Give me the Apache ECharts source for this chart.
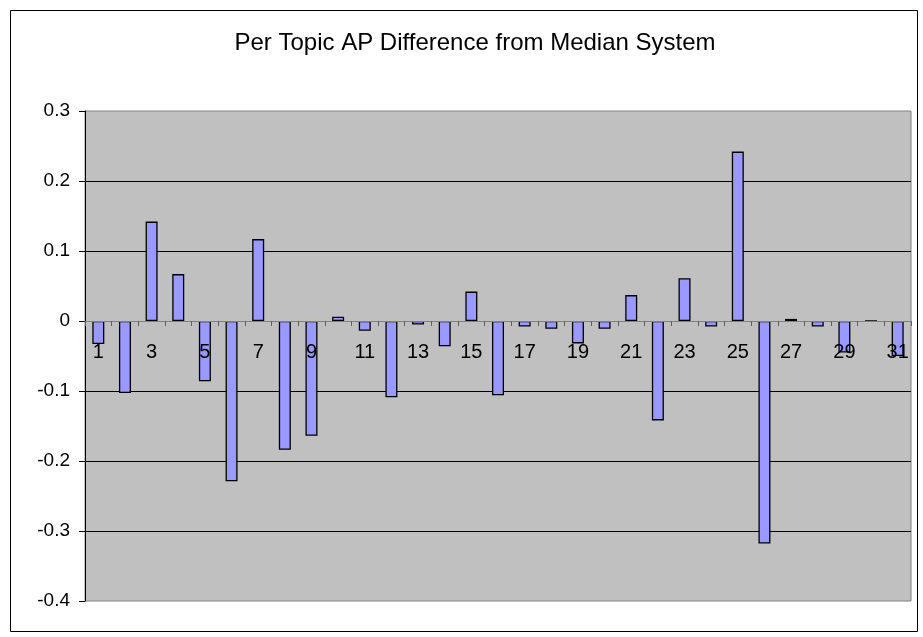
<!DOCTYPE html>
<html>
<head>
<meta charset="utf-8">
<script src="https://cdn.jsdelivr.net/npm/echarts@6/dist/echarts.min.js"></script>
<style>html,body{margin:0;padding:0;background:#fff}#c{width:923px;height:637px}</style>
</head>
<body>
<div id="c"></div>
<script>
var titleText = 'Per Topic AP Difference from Median System';
var categories = ['1','2','3','4','5','6','7','8','9','10','11','12','13','14','15','16','17','18','19','20','21','22','23','24','25','26','27','28','29','30','31'];
var apDiff = [-0.033, -0.103, 0.142, 0.067, -0.086, -0.229, 0.117, -0.184, -0.164, 0.006, -0.014, -0.109, -0.005, -0.036, 0.042, -0.106, -0.008, -0.011, -0.032, -0.011, 0.037, -0.142, 0.061, -0.008, 0.242, -0.318, 0.003, -0.008, -0.045, 0, -0.05];
var yMin = -0.4, yMax = 0.3, yStep = 0.1;

var gridTop = 111, gridBottom = 36, chartH = 637;
var plotH = chartH - gridTop - gridBottom;
// distance from the plot bottom up to the zero line, used to place category labels beside the zero axis
var zeroFromBottom = plotH * (0 - yMin) / (yMax - yMin);

var chart = echarts.init(document.getElementById('c'), null, {renderer: 'canvas'});
chart.setOption({
  animation: false,
  backgroundColor: '#fff',
  graphic: [{
    type: 'rect', left: 8, top: 8, z: -10, silent: true,
    shape: {width: 907, height: 621},
    style: {fill: 'none', stroke: '#000', lineWidth: 1}
  }],
  title: {
    text: titleText,
    left: 470, top: 26, textAlign: 'center',
    textStyle: {fontFamily: 'Liberation Sans, Arial, sans-serif', fontSize: 24, fontWeight: 'normal', color: '#000'}
  },
  grid: {
    left: 85, top: gridTop, right: 12, bottom: gridBottom,
    show: true, backgroundColor: '#C0C0C0', borderColor: '#808080', borderWidth: 1,
    containLabel: false
  },
  xAxis: {
    type: 'category',
    data: categories,
    boundaryGap: true,
    axisLine: {onZero: true, lineStyle: {color: '#808080', width: 1}},
    axisTick: {show: true, interval: 0, length: 5, alignWithLabel: false, lineStyle: {color: '#606060'}},
    axisLabel: {interval: 1, margin: 21 - zeroFromBottom, color: '#000', fontSize: 20, fontFamily: 'Liberation Sans, Arial, sans-serif'},
    splitLine: {show: false},
    z: 5
  },
  yAxis: {
    type: 'value',
    min: yMin, max: yMax, interval: yStep,
    axisLine: {show: true, lineStyle: {color: '#000', width: 1}},
    axisTick: {show: true, length: 6, lineStyle: {color: '#000'}},
    axisLabel: {margin: 15, color: '#000', fontSize: 19, fontFamily: 'Liberation Sans, Arial, sans-serif',
      formatter: function (v) { return String(Math.round(v * 10) / 10); }},
    splitLine: {show: true, showMinLine: false, showMaxLine: false, lineStyle: {color: '#000', width: 1}}
  },
  series: [{
    type: 'bar',
    data: apDiff,
    barWidth: 12,
    z: 2,
    itemStyle: {color: '#9999FF', borderColor: '#000', borderWidth: 1.3},
    emphasis: {disabled: true}
  }]
});
</script>
</body>
</html>
